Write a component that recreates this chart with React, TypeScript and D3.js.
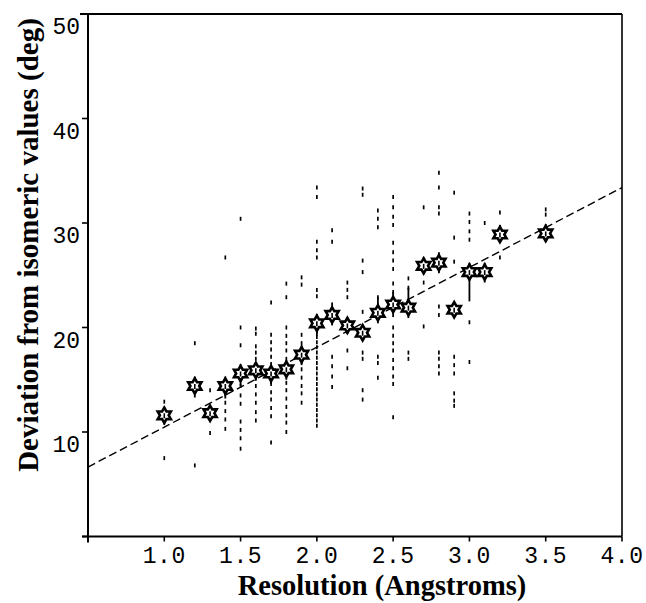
import React from "react";
import * as d3 from "d3";

// ---- data ----
const resolutions = [1.0, 1.2, 1.3, 1.4, 1.5, 1.6, 1.7, 1.8, 1.9, 2.0, 2.1, 2.2, 2.3, 2.4, 2.5, 2.6, 2.7, 2.8, 2.9, 3.0, 3.1, 3.2, 3.5];
const meanDeviation = [11.6, 14.4, 11.8, 14.4, 15.6, 15.9, 15.6, 16.0, 17.4, 20.4, 21.2, 20.2, 19.5, 21.4, 22.2, 21.9, 25.9, 26.2, 21.7, 25.3, 25.3, 28.9, 29.0];
const errUp = [0.8, 0.9, 0.6, 0.9, 0.9, 0.8, 0.8, 0.9, 0.9, 0.9, 1.2, 0.8, 0.8, 1.5, 1.2, 1.9, 0.8, 1.0, 0.6, 0.9, 0.9, 0.9, 0.9];
const errDown = [0.9, 1.1, 0.7, 1.2, 1.2, 1.0, 1.0, 1.0, 1.0, 1.2, 1.0, 0.8, 0.8, 1.0, 1.2, 1.0, 0.8, 1.0, 0.6, 2.8, 1.0, 0.8, 0.8];
const individualValues = [
  [12.9, 7.5],
  [18.5, 6.8],
  [14.0, 9.9],
  [26.7, 13.6, 12.8, 12.0, 11.2, 10.3],
  [30.4, 20.0, 18.3, 15.2, 14.4, 13.5, 12.7, 11.0, 10.2, 9.4, 8.4],
  [19.9, 19.4, 18.2, 17.6, 17.0, 15.2, 14.4, 13.6, 12.8, 11.9, 11.1],
  [22.4, 19.3, 18.6, 17.9, 17.2, 16.5, 15.3, 14.6, 13.8, 13.1, 12.3, 11.5, 9.0],
  [24.2, 22.9, 20.0, 19.2, 18.5, 17.8, 17.0, 16.3, 15.5, 14.7, 14.0, 13.2, 12.4, 11.6, 10.9, 10.0],
  [24.8, 24.1, 19.3, 18.5, 17.8, 16.7, 16.0, 15.2, 14.4, 13.7, 12.8],
  [33.4, 32.5, 28.2, 27.4, 26.7, 23.6, 23.0, 19.6, 19.1, 18.6, 18.1, 17.6, 17.1, 16.6, 16.1, 15.6, 15.1, 14.6, 14.1, 13.6, 13.1, 12.6, 12.1, 11.6, 11.1, 10.6],
  [29.3, 28.2, 17.2, 16.3, 15.3, 14.3],
  [24.3, 23.6, 22.9, 17.8, 16.1],
  [33.3, 32.7, 26.4, 25.3, 21.5, 17.6, 17.0, 14.0, 13.1],
  [31.2, 30.4, 29.6, 22.9, 17.2, 16.6, 15.2],
  [32.5, 31.5, 30.6, 29.8, 28.1, 27.2, 26.4, 25.6, 24.2, 23.4, 20.0, 19.2, 18.5, 17.8, 16.9, 16.1, 15.3, 14.6, 11.4],
  [24.7, 23.8, 17.6, 17.0],
  [31.5, 24.3, 20.1],
  [34.8, 33.4, 31.5, 30.9, 22.0, 21.2, 17.6, 17.0, 16.3, 15.6],
  [32.9, 28.6, 26.3, 17.2, 16.4, 15.6, 13.7, 13.0, 12.5],
  [30.9, 30.1, 29.2, 28.4, 20.5, 16.7],
  [30.0],
  [31.0, 26.7],
  [31.3, 30.8],
];
const fitIntercept = 2.83;
const fitSlope = 7.64;
const xTicks = [0.5, 1.0, 1.5, 2.0, 2.5, 3.0, 3.5, 4.0];
const xTickLabels = ["", "1.0", "1.5", "2.0", "2.5", "3.0", "3.5", "4.0"];
const yTicks = [0, 10, 20, 30, 40, 50];
const yTickLabels = ["", "10", "20", "30", "40", "50"];
const xTitle = "Resolution (Angstroms)";
const yTitle = "Deviation from isomeric values (deg)";

const W = 646;
const H = 603;

function hexagram(cx: number, cy: number, R: number) {
  const r = R / Math.sqrt(3);
  const pts: [number, number][] = [];
  for (let k = 0; k < 12; k++) {
    const ang = (-90 + 30 * k) * Math.PI / 180;
    const rad = k % 2 === 0 ? R : r;
    pts.push([cx + rad * Math.cos(ang), cy + rad * Math.sin(ang)]);
  }
  return d3.line()(pts) + "Z";
}

export default function App() {
  const x = d3.scaleLinear().domain([0.5, 4.0]).range([88, 622]);
  const y = d3.scaleLinear().domain([0, 50]).range([536.5, 14]);
  const [x0, x1] = x.domain();
  const monoFont = "'Liberation Mono', 'DejaVu Sans Mono', monospace";
  const serifFont = "'Liberation Serif', 'Times New Roman', serif";

  return (
    <div style={{ position: "absolute", left: 0, top: 0 }}>
      <svg width={W} height={H} style={{ display: "block", background: "#fff" }}>
        <rect x={0} y={0} width={W} height={H} fill="#fff" />
        {/* frame */}
        <line x1={80} x2={x(4.0)} y1={y(50)} y2={y(50)} stroke="#000" strokeWidth={2} />
        <line x1={x(4.0)} x2={x(4.0)} y1={y(50)} y2={y(0)} stroke="#000" strokeWidth={1.6} />
        <line x1={x(0.5)} x2={x(0.5)} y1={y(50)} y2={y(0) + 6} stroke="#000" strokeWidth={2} />
        <line x1={82} x2={x(4.0)} y1={y(0)} y2={y(0)} stroke="#000" strokeWidth={2} />
        {/* y ticks */}
        {yTicks.map((t, i) => (
          <g key={"yt" + i}>
            <line x1={x(0.5) - 6} x2={x(0.5)} y1={y(t)} y2={y(t)} stroke="#000" strokeWidth={1.6} />
            <text x={80} y={y(t) + 20} textAnchor="end" fontFamily={monoFont} fontSize={23} fill="#000">
              {yTickLabels[i]}
            </text>
          </g>
        ))}
        {/* x ticks */}
        {xTicks.map((t, i) => (
          <g key={"xt" + i}>
            <line x1={x(t)} x2={x(t)} y1={y(0)} y2={y(0) + 5} stroke="#000" strokeWidth={1.6} />
            <text x={x(t)} y={563} textAnchor="middle" fontFamily={monoFont} fontSize={23} letterSpacing={0.5} fill="#000">
              {xTickLabels[i]}
            </text>
          </g>
        ))}
        {/* individual values */}
        {individualValues.map((vals, i) =>
          vals.map((v, j) => (
            <line
              key={"p" + i + "-" + j}
              x1={x(resolutions[i])}
              x2={x(resolutions[i])}
              y1={y(v) - 2}
              y2={y(v) + 2}
              stroke="#000"
              strokeWidth={1.7}
            />
          ))
        )}
        {/* regression line */}
        <line
          x1={x(x0)}
          y1={y(fitIntercept + fitSlope * x0)}
          x2={x(x1)}
          y2={y(fitIntercept + fitSlope * x1)}
          stroke="#000"
          strokeWidth={1.4}
          strokeDasharray="8,4"
        />
        {/* means with error bars */}
        {resolutions.map((r, i) => (
          <g key={"m" + i}>
            <line
              x1={x(r)}
              x2={x(r)}
              y1={y(meanDeviation[i] + errUp[i])}
              y2={y(meanDeviation[i] - errDown[i])}
              stroke="#000"
              strokeWidth={1.8}
            />
            <path d={hexagram(x(r), y(meanDeviation[i]), 7.6)} fill="#fff" stroke="#000" strokeWidth={2.6} strokeLinejoin="miter" />
            <line
              x1={x(r)}
              x2={x(r)}
              y1={y(meanDeviation[i]) - 2}
              y2={y(meanDeviation[i]) + 3}
              stroke="#000"
              strokeWidth={1.6}
            />
          </g>
        ))}
        {/* titles */}
        <text x={382} y={595} textAnchor="middle" fontFamily={serifFont} fontWeight="bold" fontSize={28.5} fill="#000">
          {xTitle}
        </text>
        <text
          transform={`translate(38,245) rotate(-90)`}
          textAnchor="middle"
          fontFamily={serifFont}
          fontWeight="bold"
          fontSize={29}
          fill="#000"
        >
          {yTitle}
        </text>
      </svg>
    </div>
  );
}
